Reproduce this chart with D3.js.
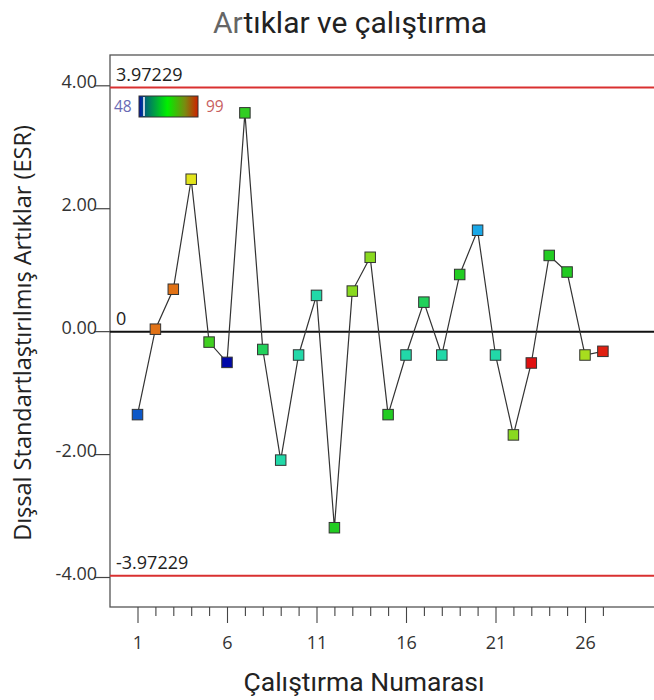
<!DOCTYPE html>
<html>
<head>
<meta charset="utf-8">
<script src="https://cdn.jsdelivr.net/npm/d3@7"></script>
<style>
	body { margin: 0; background: #fff; overflow: hidden; }
	svg text { fill: #333; }
</style>
</head>
<body>
<svg id="chart" width="654" height="700"></svg>
<script>
// run numbers and externally studentized residuals
let runs = d3.range(1, 28);
let residuals = [-1.35, 0.04, 0.69, 2.48, -0.17, -0.50, 3.56, -0.29, -2.09, -0.38,
	0.59, -3.19, 0.66, 1.21, -1.35, -0.38, 0.48, -0.38, 0.93, 1.65,
	-0.38, -1.68, -0.51, 1.24, 0.97, -0.38, -0.32];
// colour-by value for each run (legend range 48..99)
let colorVals = [53, 93, 93, 86, 75, 48, 74, 70, 66, 66,
	66, 73, 80, 80, 73, 66, 70, 66, 73, 58,
	66, 80, 99, 73, 73, 82, 98];
let yTicks = [-4, -2, 0, 2, 4];
let xTicks = [1, 6, 11, 16, 21, 26];
let limit = 3.97229;
let colorMin = 48, colorMax = 99;

let svg = d3.select('svg#chart');
let frame = { left: 110, top: 55, right: 690, bottom: 607 };

let x = d3.scaleLinear([1, 26], [137.5, 585]);
let y = d3.scaleLinear([-4, 4], [577.5, 85.8]);
let color = d3.scaleLinear()
	.domain([48, 58, 66, 73, 86, 99])
	.range(['#0008a8', '#1aa8e8', '#22d8a8', '#22cc22', '#e2e41c', '#e01010']);
// plain hyphen for negatives, like the original
let fmt = p => v => d3.format(p)(v).replace('−', '-');

// title
let title = svg.append('text')
	.attr('x', 350).attr('y', 33)
	.attr('text-anchor', 'middle')
	.style('font-family', 'Roboto').style('font-size', '30px');
title.append('tspan').text('Ar').style('fill', '#666');
title.append('tspan').text('tıklar ve çalıştırma').style('fill', '#222');

// frame
svg.append('rect')
	.attr('x', frame.left).attr('y', frame.top)
	.attr('width', frame.right - frame.left).attr('height', frame.bottom - frame.top)
	.attr('fill', 'none').attr('stroke', '#555').attr('stroke-width', 1.3);

// y axis ticks
let yAxis = svg.append('g').attr('class', 'yaxis');
yAxis.selectAll('line').data(yTicks).join('line')
	.attr('x1', 94).attr('x2', frame.left)
	.attr('y1', d => y(d)).attr('y2', d => y(d))
	.attr('stroke', '#444').attr('stroke-width', 1.2);
yAxis.selectAll('text').data(yTicks).join('text')
	.attr('x', 97).attr('y', d => y(d) + 2)
	.attr('text-anchor', 'end')
	.style('font-family', 'Open Sans').style('font-size', '18px')
	.text(d => fmt('.2f')(d));

// x axis
let xAxis = svg.append('g')
	.attr('transform', 'translate(0,' + frame.bottom + ')')
	.call(d3.axisBottom(x).tickValues(runs).tickSize(9).tickSizeOuter(0)
		.tickFormat(d => xTicks.includes(d) ? d : ''));
xAxis.select('.domain').remove();
xAxis.selectAll('.tick line').attr('stroke', '#444').attr('stroke-width', 1.1)
	.attr('y2', d => xTicks.includes(d) ? 16 : 9);
xAxis.selectAll('.tick text')
	.attr('y', 29)
	.style('font-family', 'Open Sans').style('font-size', '18px').style('fill', '#333');

// axis titles
svg.append('text')
	.attr('x', 364).attr('y', 691)
	.attr('text-anchor', 'middle')
	.style('font-family', 'Roboto').style('font-size', '26.5px').style('fill', '#222')
	.text('Çalıştırma Numarası');
svg.append('text')
	.attr('transform', 'translate(31,333) rotate(-90)')
	.attr('text-anchor', 'middle')
	.style('font-family', 'Open Sans').style('font-size', '23.5px').style('fill', '#222')
	.text('Dışsal Standartlaştırılmış Artıklar (ESR)');

// reference lines
let refs = [
	{ 'v': limit, 'label': fmt('.5f')(limit), 'color': '#d93030', 'w': 2 },
	{ 'v': 0, 'label': '0', 'color': '#111', 'w': 2 },
	{ 'v': -limit, 'label': fmt('.5f')(-limit), 'color': '#d93030', 'w': 2 }
];
svg.append('g').selectAll('line').data(refs).join('line')
	.attr('x1', frame.left).attr('x2', frame.right)
	.attr('y1', d => y(d.v)).attr('y2', d => y(d.v))
	.attr('stroke', d => d.color).attr('stroke-width', d => d.w);
svg.append('g').selectAll('text').data(refs).join('text')
	.attr('x', 116).attr('y', d => y(d.v) - 7)
	.style('font-family', 'Open Sans').style('font-size', '18px').style('fill', '#222')
	.text(d => d.label);

// legend (colour bar)
let defs = svg.append('defs');
let grad = defs.append('linearGradient').attr('id', 'cbar');
[['0%', '#0010b0'], ['12%', '#006a70'], ['48%', '#00f000'], ['78%', '#7a8a10'], ['100%', '#d02000']]
	.forEach(s => grad.append('stop').attr('offset', s[0]).attr('stop-color', s[1]));
svg.append('rect')
	.attr('x', 139).attr('y', 96).attr('width', 59).attr('height', 21)
	.attr('fill', 'url(#cbar)').attr('stroke', '#333').attr('stroke-width', 1);
svg.append('line')
	.attr('x1', 144).attr('x2', 144).attr('y1', 97).attr('y2', 116)
	.attr('stroke', '#fff').attr('stroke-width', 1.5);
svg.append('text').attr('x', 114).attr('y', 112)
	.style('font-family', 'Open Sans').style('font-size', '15.5px').style('fill', '#6a6ab4')
	.text(colorMin);
svg.append('text').attr('x', 206).attr('y', 112)
	.style('font-family', 'Open Sans').style('font-size', '15.5px').style('fill', '#c86060')
	.text(colorMax);

// residual line and markers
let pts = runs.map((r, i) => ({ 'run': r, 'v': residuals[i], 'c': colorVals[i] }));
let line = d3.line().x(d => x(d.run)).y(d => y(d.v));
svg.append('path')
	.datum(pts)
	.attr('d', line)
	.attr('fill', 'none').attr('stroke', '#333').attr('stroke-width', 1.2);
let s = 10.5;
svg.append('g').selectAll('rect').data(pts).join('rect')
	.attr('x', d => x(d.run) - s / 2).attr('y', d => y(d.v) - s / 2)
	.attr('width', s).attr('height', s)
	.attr('fill', d => color(d.c))
	.attr('stroke', '#333').attr('stroke-width', 1);
</script>
</body>
</html>
